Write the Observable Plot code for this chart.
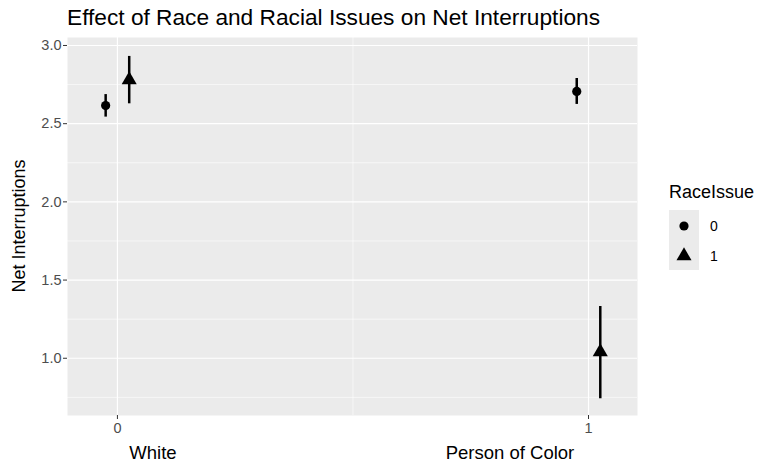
<!DOCTYPE html>
<html><head><meta charset="utf-8">
<script src="https://cdn.jsdelivr.net/npm/d3@7"></script>
<script src="https://cdn.jsdelivr.net/npm/@observablehq/plot@0.6"></script>
<style>body{margin:0;background:#fff} svg{display:block}</style>
</head><body><div id="chart"></div>
<script>
// Data
const race = [0, 0, 1, 1];               // 0 = White, 1 = Person of Color
const raceIssue = ["0", "1", "0", "1"];
const dodge = [-0.025, 0.025, -0.025, 0.025];
const mean  = [2.616, 2.78, 2.706, 1.04];
const lower = [2.542, 2.627, 2.623, 0.741];
const upper = [2.686, 2.93, 2.789, 1.331];
const yMajor = [1.0, 1.5, 2.0, 2.5, 3.0];
const yMinor = [0.75, 1.25, 1.75, 2.25, 2.75];
const xMajor = [0, 1];
const xMinor = [0.5];
const groupLabels = ["White", "Person of Color"];
const legendKeys = ["0", "1"];

const rows = race.map((r, i) => ({
  x: r + dodge[i], issue: raceIssue[i], mean: mean[i], lo: lower[i], hi: upper[i]
}));

const font = "Liberation Sans, Arial, Helvetica, sans-serif";
const rCircle = 4.6, rTri = 5.6;

const chart = Plot.plot({
  width: 762, height: 463,
  marginLeft: 67, marginRight: 125, marginTop: 37, marginBottom: 48,
  style: {fontFamily: font, background: "#fff"},
  x: {domain: [-0.106, 1.104]},
  y: {domain: [0.634, 3.051]},
  symbol: {domain: ["0", "1"], range: ["circle", "triangle"]},
  marks: [
    Plot.frame({fill: "#ebebeb", stroke: null}),
    Plot.gridY(yMinor, {stroke: "#fff", strokeOpacity: 1, strokeWidth: 0.6}),
    Plot.gridX(xMinor, {stroke: "#fff", strokeOpacity: 1, strokeWidth: 0.6}),
    Plot.gridY(yMajor, {stroke: "#fff", strokeOpacity: 1, strokeWidth: 1.2}),
    Plot.gridX(xMajor, {stroke: "#fff", strokeOpacity: 1, strokeWidth: 1.2}),
    Plot.axisY(yMajor, {tickFormat: d3.format(".1f"), tickSize: 4, tickPadding: 2,
      stroke: "#333", fill: "#4d4d4d", fontSize: 14.5, label: null}),
    Plot.axisX(xMajor, {tickFormat: d3.format("d"), tickSize: 4, tickPadding: 3,
      stroke: "#333", fill: "#4d4d4d", fontSize: 14.5, label: null}),
    Plot.ruleX(rows, {x: "x", y1: "lo", y2: "hi", stroke: "#000", strokeWidth: 2.5}),
    Plot.dot(rows.filter(d => d.issue === "0"), {x: "x", y: "mean", symbol: "issue", fill: "#000", stroke: null, r: rCircle}),
    Plot.dot(rows.filter(d => d.issue === "1"), {x: "x", y: "mean", symbol: "issue", fill: "#000", stroke: null, r: rTri})
  ]
});
document.getElementById("chart").appendChild(chart);

const svg = d3.select(chart);
const ns = svg.append("g").attr("font-family", font).attr("text-anchor", "start");
// Title
ns.append("text").attr("x", 67).attr("y", 25).attr("font-size", 22.7)
  .attr("fill", "#000").text("Effect of Race and Racial Issues on Net Interruptions");
// Y axis title
ns.append("text").attr("transform", "translate(25,226) rotate(-90)")
  .attr("text-anchor", "middle").attr("font-size", 18).attr("fill", "#000")
  .text("Net Interruptions");
// X group labels
[153, 510].forEach((cx, i) => {
  ns.append("text").attr("x", cx).attr("y", 459).attr("text-anchor", "middle")
    .attr("font-size", 18.5).attr("fill", "#000").text(groupLabels[i]);
});
// Legend
ns.append("text").attr("x", 669).attr("y", 198).attr("font-size", 18)
  .attr("fill", "#000").text("RaceIssue");
ns.append("rect").attr("x", 669).attr("y", 210).attr("width", 30).attr("height", 60)
  .attr("fill", "#ebebeb");
const sym = [d3.symbol(d3.symbolCircle, Math.PI * rCircle * rCircle), d3.symbol(d3.symbolTriangle, Math.PI * rTri * rTri)];
legendKeys.forEach((k, i) => {
  const cy = 226 + i * 30;
  ns.append("path").attr("d", sym[i]()).attr("transform", `translate(684,${cy})`).attr("fill", "#000");
  ns.append("text").attr("x", 710).attr("y", cy).attr("dy", "0.35em").attr("font-size", 14)
    .attr("fill", "#000").text(k);
});
</script>
</body></html>
